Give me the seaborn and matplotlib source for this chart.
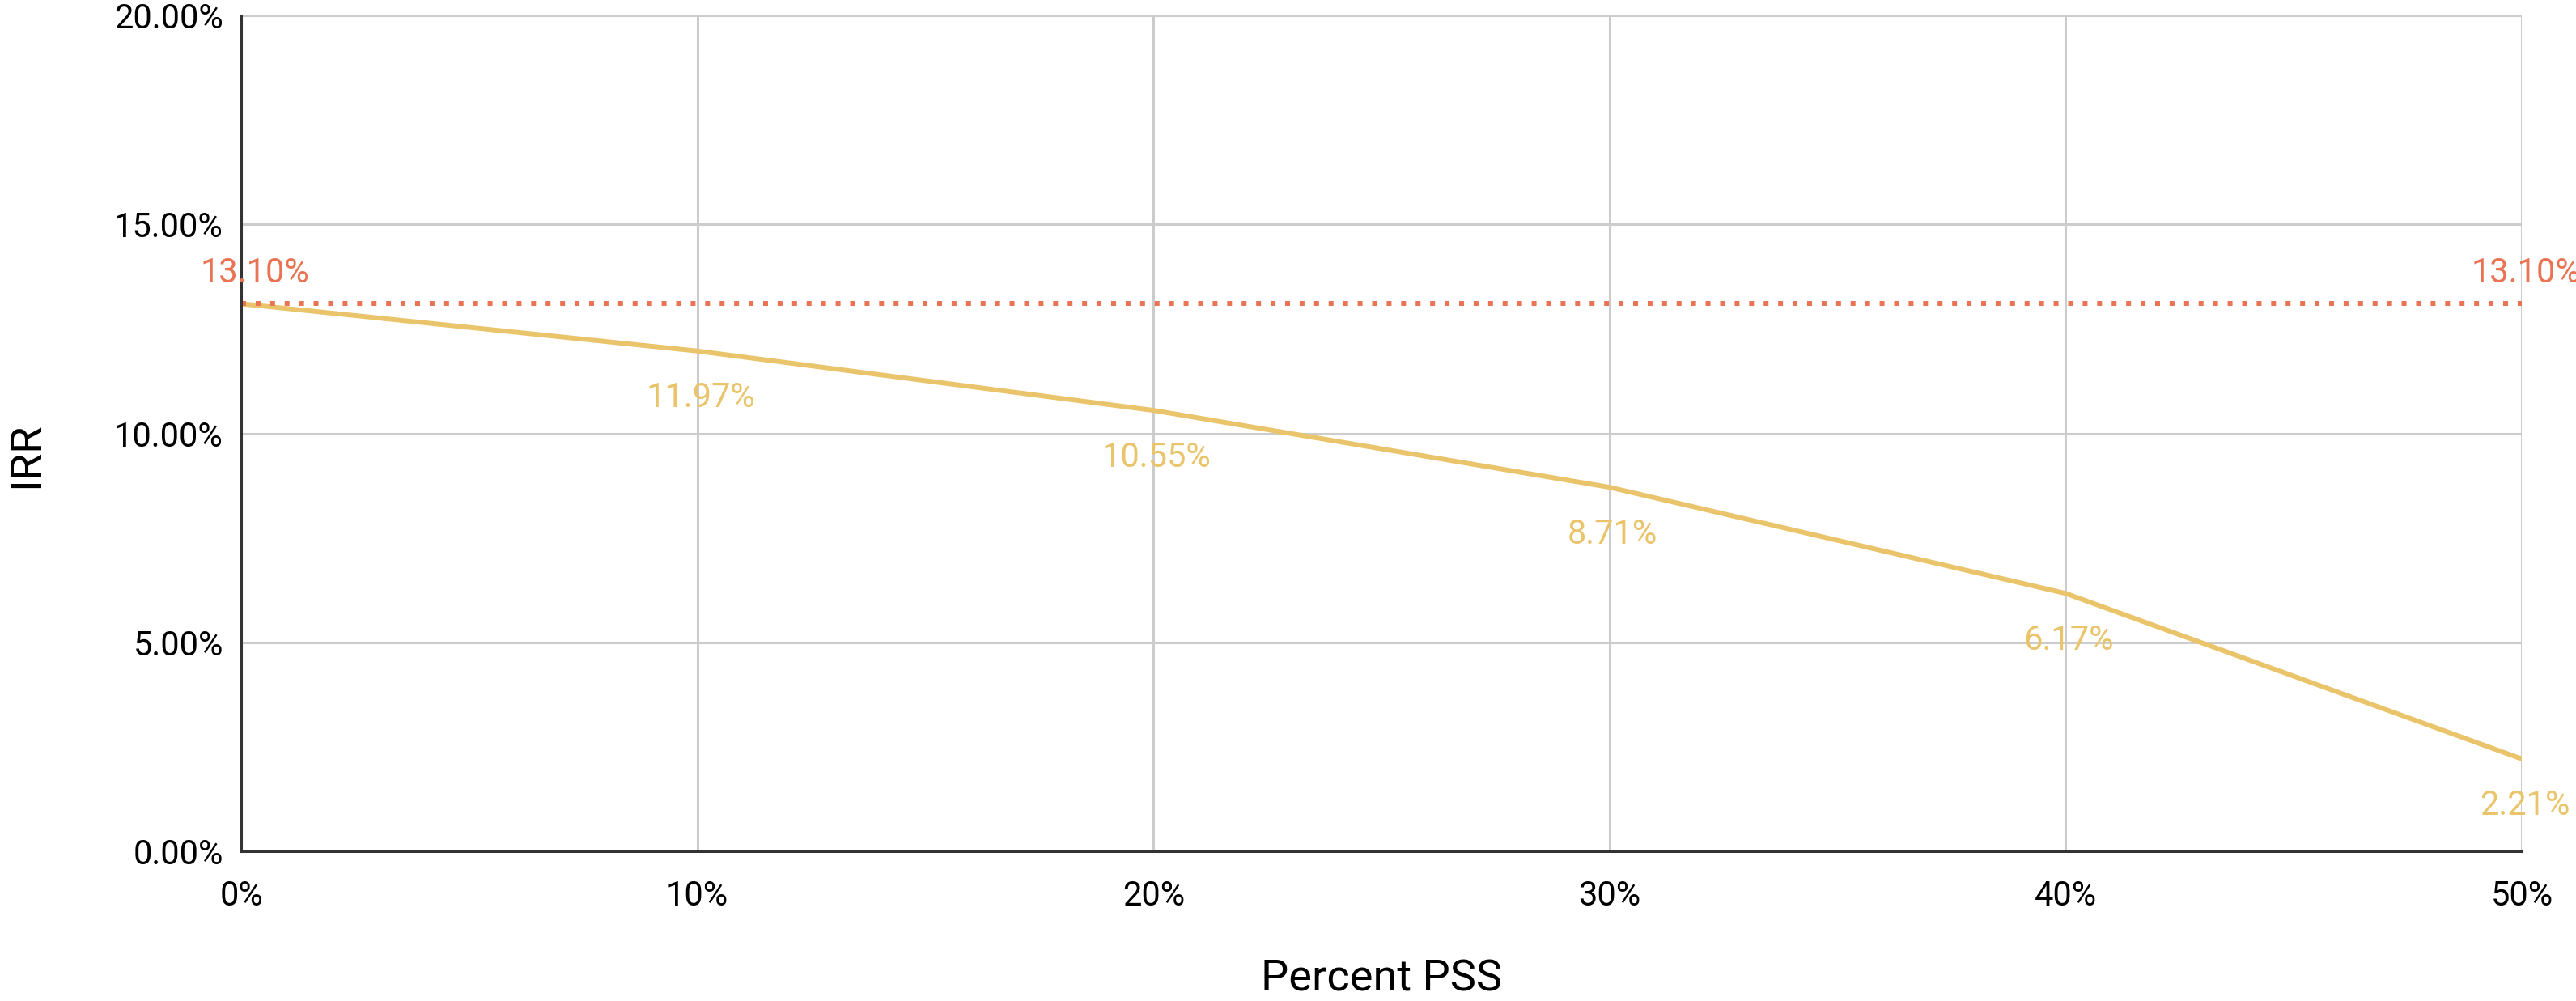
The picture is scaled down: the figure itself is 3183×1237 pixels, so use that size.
import matplotlib
matplotlib.use("Agg")
import matplotlib.pyplot as plt
from matplotlib.ticker import FuncFormatter
import seaborn as sns
import pandas as pd

# Share of PSS and resulting IRR (in %)
pss_pct = [0, 10, 20, 30, 40, 50]
irr_pct = [13.10, 11.97, 10.55, 8.71, 6.17, 2.21]
baseline_pct = [13.10, 13.10, 13.10, 13.10, 13.10, 13.10]

x_ticks = [0, 10, 20, 30, 40, 50]
y_ticks = [0, 5, 10, 15, 20]

YELLOW = "#EAC46A"
RED = "#E97353"

sns.set_theme(style="white")
plt.rcParams["font.family"] = ["Roboto", "DejaVu Sans"]

df = pd.DataFrame({
    "pss": pss_pct * 2,
    "irr": irr_pct + baseline_pct,
    "series": ["IRR"] * len(pss_pct) + ["Baseline"] * len(pss_pct),
})

fig = plt.figure(figsize=(31.83, 12.37), dpi=100)
ax = fig.add_axes([298 / 3183, 1 - 1052 / 1237, (3116 - 298) / 3183, (1052 - 19) / 1237])

sns.lineplot(data=df[df.series == "IRR"], x="pss", y="irr", color=YELLOW,
             linewidth=4.3, ax=ax, zorder=3, legend=False)
sns.lineplot(data=df[df.series == "Baseline"], x="pss", y="irr", color=RED,
             linewidth=4.3, ax=ax, zorder=4, legend=False)
base_line = ax.get_lines()[-1]
base_line.set_dashes([1, 2])
base_line.set_dash_capstyle("butt")

ax.set_xlim(0, 50)
ax.set_ylim(0, 20)
ax.set_xticks(x_ticks)
ax.set_yticks(y_ticks)
ax.xaxis.set_major_formatter(FuncFormatter(lambda v, p: f"{v:.0f}%"))
ax.yaxis.set_major_formatter(FuncFormatter(lambda v, p: f"{v:.2f}%"))

ax.grid(True, color="#cccccc", linewidth=2.2)
ax.set_axisbelow(True)
for s in ["top", "right"]:
    ax.spines[s].set_visible(False)
for s in ["left", "bottom"]:
    ax.spines[s].set_color("#333333")
    ax.spines[s].set_linewidth(2.2)
    ax.spines[s].set_zorder(5)

ax.tick_params(axis="x", length=0, pad=25, labelsize=30, labelcolor="#000000")
ax.tick_params(axis="y", length=0, pad=16, labelsize=30, labelcolor="#000000")

ax.set_xlabel("Percent PSS", fontsize=39, color="#000000")
ax.set_ylabel("IRR", fontsize=39, color="#000000")
ax.xaxis.set_label_coords(0.5, -0.128)
ax.yaxis.set_label_coords(-0.085, 0.474)

# value labels for the IRR curve (below the line)
for x, y in zip(pss_pct[1:], irr_pct[1:]):
    ax.annotate(f"{y:.2f}%", (x, y), xytext=(4, -58), textcoords="offset pixels",
                ha="center", va="center", fontsize=30, color=YELLOW, zorder=6)

# value labels for the baseline (above the line, at both ends)
for x, y in [(pss_pct[0], baseline_pct[0]), (pss_pct[-1], baseline_pct[-1])]:
    dx = 17 if x == pss_pct[0] else 5
    ax.annotate(f"{y:.2f}%", (x, y), xytext=(dx, 38), textcoords="offset pixels",
                ha="center", va="center", fontsize=30, color=RED, zorder=6)

fig.savefig("out.png", dpi=100)
